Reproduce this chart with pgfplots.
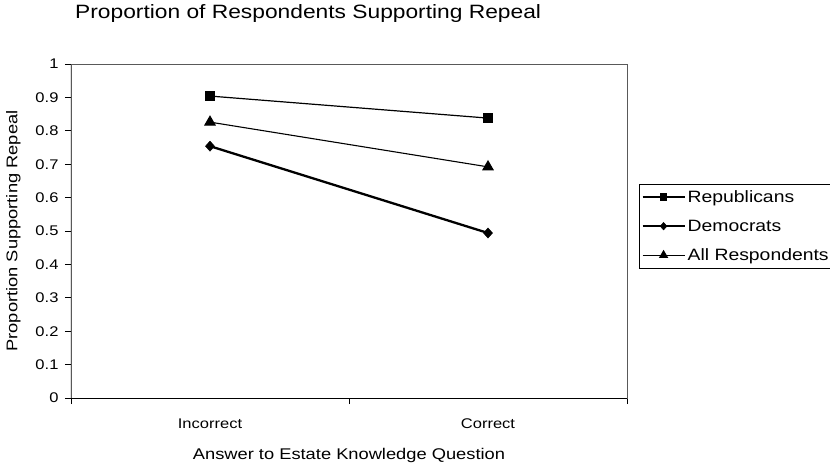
\documentclass[border=0pt]{standalone}
\usepackage{fontspec}
\setmainfont{Liberation Sans}[FakeStretch=1.18]
\usepackage{pgfplots}
\pgfplotsset{compat=1.18}
\begin{document}
\begin{tikzpicture}[x=1pt,y=1pt]
\path[use as bounding box] (0,0) rectangle (830,464);
\begin{axis}[
  at={(71pt,66pt)}, anchor=south west,
  scale only axis, width=556pt, height=334pt,
  xmin=0, xmax=2, ymin=0, ymax=1,
  axis line style={black!65, line width=0.7pt},
  xtick={0,1,2}, xticklabels={},
  extra x ticks={0.5,1.5},
  extra x tick labels={Incorrect,Correct},
  extra x tick style={major tick length=0pt, tick label style={yshift=-17pt}},
  ytick={0,0.1,...,1.0},
  yticklabels={0,0.1,0.2,0.3,0.4,0.5,0.6,0.7,0.8,0.9,1},
  yticklabel style={xshift=-3pt},
  tick align=outside, major tick length=6pt,
  tick style={black, line width=0.8pt},
  xtick pos=bottom, ytick pos=left,
  tick label style={font=\fontsize{14}{16}\selectfont},
  /pgf/number format/assume math mode=true,
  xlabel={Answer to Estate Knowledge Question},
  ylabel={Proportion Supporting Repeal},
  label style={font=\fontsize{15.5}{17}\selectfont},
  xlabel style={yshift=-7pt},
  ylabel style={yshift=8pt},
  legend style={at={(axis description cs:1.0216,0.6407)}, anchor=north west,
    draw=black, line width=0.8pt, font=\fontsize{16.4}{18}\selectfont,
    row sep=12pt, inner xsep=2pt, inner ysep=4pt},
  legend cell align=left,
  legend image code/.code={\draw[mark repeat=2,mark phase=2,every mark/.append style={scale=0.75}] plot coordinates {(0pt,0pt) (21pt,0pt) (42pt,0pt)};},
]
\draw[black, line width=1pt] (rel axis cs:0,1) -- (rel axis cs:0,0) -- (rel axis cs:1,0);
\addplot[black, line width=1.2pt, mark=square*, mark size=4.3pt, mark options={solid,fill=black}] coordinates {(0.5,0.904) (1.5,0.838)};
\addlegendentry{Republicans}
\addplot[black, line width=2.3pt, mark=diamond*, mark size=5pt, mark options={solid,fill=black,line width=0.5pt,xscale=1.2}] coordinates {(0.5,0.754) (1.5,0.494)};
\addlegendentry{Democrats}
\addplot[black, line width=1.1pt, mark=triangle*, mark size=5.8pt, mark options={solid,fill=black}] coordinates {(0.5,0.826) (1.5,0.692)};
\addlegendentry{All Respondents}
\end{axis}
\node[anchor=base west, font=\fontsize{19.3}{21}\selectfont, inner sep=0pt] at (75,445) {Proportion of Respondents Supporting Repeal};
\end{tikzpicture}
\end{document}
